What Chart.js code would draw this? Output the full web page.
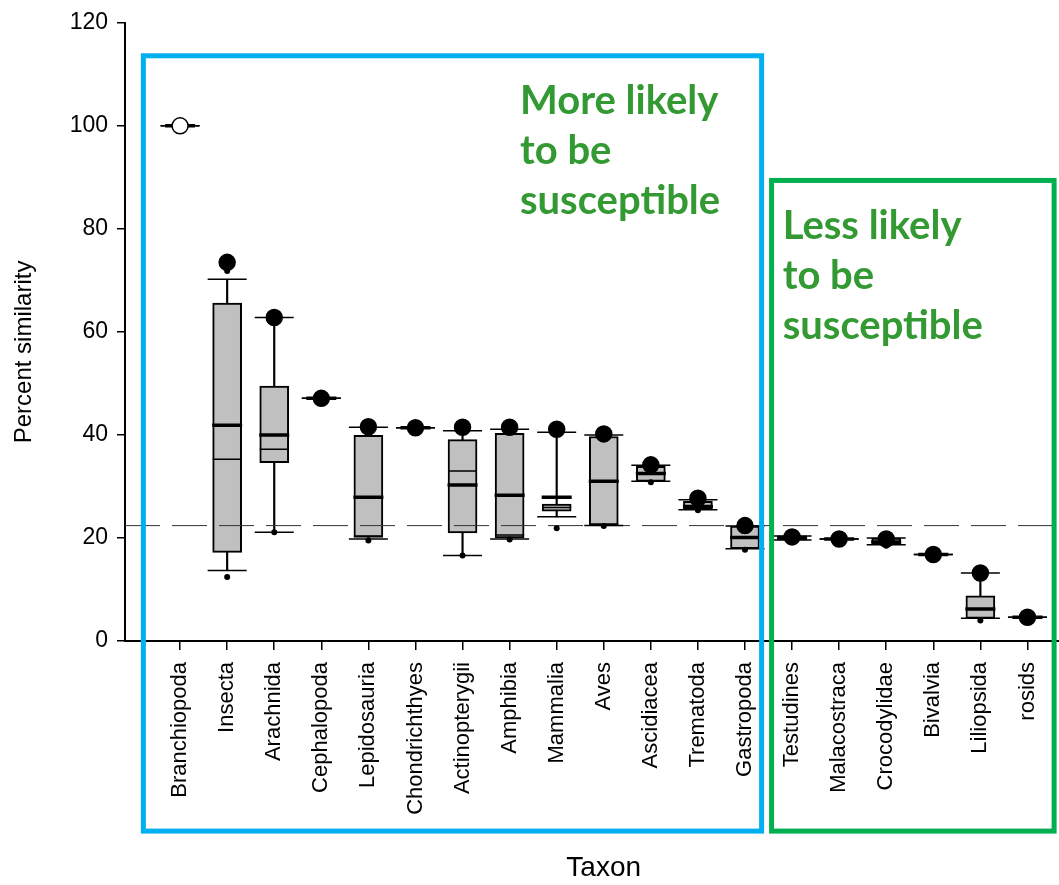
<!DOCTYPE html>
<html lang="en">
<head>
<meta charset="UTF-8" />
<title>Percent similarity by taxon</title>
<script src="https://cdn.jsdelivr.net/npm/chart.js"></script>
<style>
  html, body { margin: 0; padding: 0; background: #fff; overflow: hidden; }
</style>
</head>
<body>
<canvas id="similarityChart" width="1059" height="885"></canvas>
<script>
  const taxa = ['Branchiopoda', 'Insecta', 'Arachnida', 'Cephalopoda', 'Lepidosauria', 'Chondrichthyes',
    'Actinopterygii', 'Amphibia', 'Mammalia', 'Aves', 'Ascidiacea', 'Trematoda', 'Gastropoda',
    'Testudines', 'Malacostraca', 'Crocodylidae', 'Bivalvia', 'Liliopsida', 'rosids'];

  // box = 25th..75th percentile
  const boxLow  = [null, 17.2, 34.6, null, 20.1, null, 21.0, 20.0, 25.2, 22.4, 31.0, 25.5, 17.9, 19.6, null, 18.7, null, 4.4, null];
  const boxHigh = [null, 65.6, 49.5, null, 39.9, null, 39.1, 40.3, 26.6, 39.7, 33.9, 27.1, 22.3, 20.4, null, 20.0, null, 8.75, null];
  const meanLine   = [100, 41.9, 40.0, 47.1, 27.9, 41.4, 30.3, 28.3, 27.9, 31.0, 32.5, 26.1, 20.1, 20.0, 19.8, 19.2, 16.8, 6.2, 4.6];
  const medianLine = [null, 35.3, 37.2, null, 20.4, null, 33.0, 20.6, 25.9, 22.7, null, null, null, null, null, null, null, null, null];
  const whiskerLow  = [100, 13.7, 21.1, 47.1, 19.8, 41.4, 16.6, 19.8, 24.1, 22.4, 31.0, 25.5, 17.9, 19.6, 19.8, 18.7, 16.8, 4.4, 4.6];
  const whiskerHigh = [100, 70.2, 62.8, 47.1, 41.5, 41.4, 40.8, 41.1, 40.5, 40.0, 34.1, 27.4, 22.3, 20.4, 19.8, 20.0, 16.8, 13.2, 4.6];
  const maxPoint = [100, 73.5, 62.8, 47.1, 41.6, 41.4, 41.5, 41.5, 41.1, 40.2, 34.2, 27.7, 22.4, 20.2, 19.8, 19.8, 16.8, 13.2, 4.6];
  const smallPoints = [[], [71.8, 12.4], [21.1], [], [19.5], [], [16.6], [19.7], [21.9], [22.3], [30.8], [25.4], [17.7], [], [], [18.5], [], [4.0], []];
  const hollowTaxa = ['Branchiopoda'];
  const refLine = 22.4;
  const yTicks = [0, 20, 40, 60, 80, 100, 120];

  // highlighted zones
  const zoneText = [['More likely', 'to be', 'susceptible'], ['Less likely', 'to be', 'susceptible']];
  const zoneColor = ['#00b0f0', '#00b050'];
  const zoneLeft = [-0.78, 12.565];
  const zoneRight = [12.353, 18.566];
  const zoneTop = [113.6, 89.4];
  const zoneBottom = -36.9;
  const zoneTextX = [7.22, 12.8];
  const zoneTextY = [102.3, 78.1];

  const xMin = -1.17, xMax = 18.67;

  function points(values) {
    return values.map((v, i) => v === null ? null : { x: i, y: v }).filter(p => p);
  }
  function ranges(lo, hi) {
    return lo.map((v, i) => v === null ? null : { x: i, y: [v, hi[i]] }).filter(p => p);
  }
  const smallData = [];
  smallPoints.forEach((list, i) => list.forEach(v => smallData.push({ x: i, y: v })));

  const zonePlugin = {
    id: 'zones',
    afterDraw(chart) {
      const ctx = chart.ctx;
      const xs = chart.scales.x, ys = chart.scales.y;
      ctx.save();
      zoneColor.forEach((c, i) => {
        const l = xs.getPixelForValue(zoneLeft[i]);
        const r = xs.getPixelForValue(zoneRight[i]);
        const t = ys.getPixelForValue(zoneTop[i]);
        const b = ys.getPixelForValue(zoneBottom);
        ctx.strokeStyle = c;
        ctx.lineWidth = 5;
        ctx.strokeRect(l, t, r - l, b - t);
      });
      ctx.fillStyle = '#339933';
      ctx.font = 'bold 40px Lato';
      ctx.textAlign = 'left';
      ctx.textBaseline = 'alphabetic';
      zoneText.forEach((lines, i) => {
        const x = xs.getPixelForValue(zoneTextX[i]);
        const y = ys.getPixelForValue(zoneTextY[i]);
        lines.forEach((line, k) => ctx.fillText(line, x, y + k * 50));
      });
      ctx.restore();
    }
  };

  const font = 'Liberation Sans';

  new Chart(document.getElementById('similarityChart'), {
    type: 'bar',
    data: {
      datasets: [
        {
          type: 'scatter', label: 'max', order: 1,
          data: points(maxPoint),
          pointRadius: 8, pointHoverRadius: 8,
          pointBackgroundColor: c => c.raw && hollowTaxa.includes(taxa[c.raw.x]) ? '#ffffff' : '#000000',
          pointBorderColor: '#000', pointBorderWidth: 1.5
        },
        {
          type: 'scatter', label: 'outliers', order: 2,
          data: smallData,
          pointRadius: 3, pointHoverRadius: 3,
          pointBackgroundColor: '#000', pointBorderColor: '#000', pointBorderWidth: 0
        },
        {
          type: 'scatter', label: 'mean', order: 3,
          data: points(meanLine),
          pointStyle: 'line', pointRadius: 15, pointHoverRadius: 15,
          pointBorderColor: '#000', pointBorderWidth: 3.5
        },
        {
          type: 'scatter', label: 'median', order: 4,
          data: points(medianLine),
          pointStyle: 'line', pointRadius: 14.5, pointHoverRadius: 14.5,
          pointBorderColor: '#000', pointBorderWidth: 1.5
        },
        {
          type: 'scatter', label: 'cap high', order: 5,
          data: points(whiskerHigh),
          pointStyle: 'line', pointRadius: 19.5, pointHoverRadius: 19.5,
          pointBorderColor: '#000', pointBorderWidth: 1.5
        },
        {
          type: 'scatter', label: 'cap low', order: 6,
          data: points(whiskerLow),
          pointStyle: 'line', pointRadius: 19.5, pointHoverRadius: 19.5,
          pointBorderColor: '#000', pointBorderWidth: 1.5
        },
        {
          type: 'line', label: 'reference', order: 7,
          data: [{ x: xMin, y: refLine }, { x: xMax, y: refLine }],
          borderColor: '#333', borderWidth: 1, borderDash: [35, 12],
          pointRadius: 0, fill: false
        },
        {
          label: 'box', order: 8, grouped: false,
          data: ranges(boxLow, boxHigh),
          backgroundColor: '#c0c0c0', borderColor: '#000', borderWidth: 2,
          borderSkipped: false, barThickness: 29
        },
        {
          label: 'whisker', order: 9, grouped: false,
          data: ranges(whiskerLow, whiskerHigh),
          backgroundColor: '#000', borderWidth: 0, barThickness: 1.5
        }
      ]
    },
    options: {
      responsive: false,
      animation: false,
      events: [],
      layout: { autoPadding: false, padding: { top: 20, right: 0, bottom: 0, left: 0 } },
      plugins: { legend: { display: false }, tooltip: { enabled: false } },
      scales: {
        x: {
          type: 'linear',
          min: xMin, max: xMax,
          offset: false,
          afterBuildTicks: s => { s.ticks = taxa.map((t, i) => ({ value: i })); },
          afterFit: s => { s.height = 244; s.paddingLeft = 0; s.paddingRight = 0; },
          grid: { offset: false, drawOnChartArea: false, drawTicks: true, tickLength: 9, color: '#000', lineWidth: 1.5 },
          border: { display: true, color: '#000', width: 2 },
          ticks: {
            autoSkip: false, minRotation: 90, maxRotation: 90, padding: 12,
            color: '#000', font: { family: font, size: 22 },
            callback: v => taxa[v]
          },
          title: { display: true, text: '   Taxon', color: '#000', font: { family: font, size: 28 }, padding: { top: 0, bottom: 0 } }
        },
        y: {
          min: 0, max: 120,
          afterBuildTicks: s => { s.ticks = yTicks.map(v => ({ value: v })); },
          afterFit: s => { s.width = 125; },
          grid: { drawOnChartArea: false, drawTicks: true, tickLength: 8, color: '#000', lineWidth: 1.5 },
          border: { display: true, color: '#000', width: 2 },
          ticks: { padding: 9, color: '#000', font: { family: font, size: 23 } },
          title: { display: true, text: 'Percent similarity      ', color: '#000', font: { family: font, size: 24 }, padding: { top: 10, bottom: 0 } }
        }
      }
    },
    plugins: [zonePlugin]
  });
</script>
</body>
</html>
